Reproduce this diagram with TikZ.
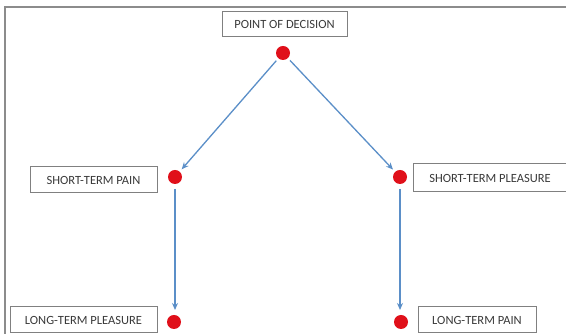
\documentclass[tikz,border=0pt]{standalone}
\usepackage{fontspec}
\setmainfont{Carlito}
\usetikzlibrary{arrows.meta}
\definecolor{boxgray}{HTML}{808080}
\definecolor{txtgray}{HTML}{3A3A3A}
\definecolor{dotred}{HTML}{E0101A}
\definecolor{arrowblue}{HTML}{5B8FC8}
\definecolor{framegray}{HTML}{8C8C8C}
\begin{document}
\begin{tikzpicture}[x=1pt,y=1pt,
  labelbox/.style={draw=boxgray, line width=1pt, fill=white, text=txtgray,
    font=\fontsize{12.5}{13}\selectfont, inner sep=0pt, anchor=center},
  reddot/.style={circle, fill=dotred, draw=none, minimum size=14pt, inner sep=0pt},
  flow/.style={draw=arrowblue, line width=1.3pt, -{Stealth[length=7pt,width=6pt]}}]
\useasboundingbox (0,0) rectangle (566,334);
\fill[white] (0,0) rectangle (566,334);
\draw[framegray, line width=2pt] (5,0) -- (5,327) -- (566,327);
% boxes
\node[labelbox, minimum width=125pt, minimum height=25pt] (pod) at (284.5,309.5) {POINT OF DECISION};
\node[labelbox, minimum width=127pt, minimum height=26pt] (spain) at (93.5,154) {SHORT-TERM PAIN};
\node[labelbox, minimum width=154pt, minimum height=28pt] (spleas) at (490,156) {SHORT-TERM PLEASURE};
\node[labelbox, minimum width=147pt, minimum height=26pt] (lpleas) at (83.5,14) {LONG-TERM PLEASURE};
\node[labelbox, minimum width=118pt, minimum height=26pt] (lpain) at (477,14) {LONG-TERM PAIN};
% dots
\node[reddot] (dtop) at (283,281) {};
\node[reddot] (dl) at (175,157) {};
\node[reddot] (dr) at (400,157) {};
\node[reddot] (dbl) at (174,12) {};
\node[reddot] (dbr) at (401,12) {};
% arrows
\draw[flow, shorten <=3pt, shorten >=3pt] (dtop) -- (dl);
\draw[flow, shorten <=3pt, shorten >=3pt] (dtop) -- (dr);
\draw[flow, shorten <=12pt, shorten >=12pt] (dl.center) -- (dl.center |- dbl.center);
\draw[flow, shorten <=12pt, shorten >=12pt] (dr.center) -- (dr.center |- dbr.center);
\end{tikzpicture}
\end{document}
